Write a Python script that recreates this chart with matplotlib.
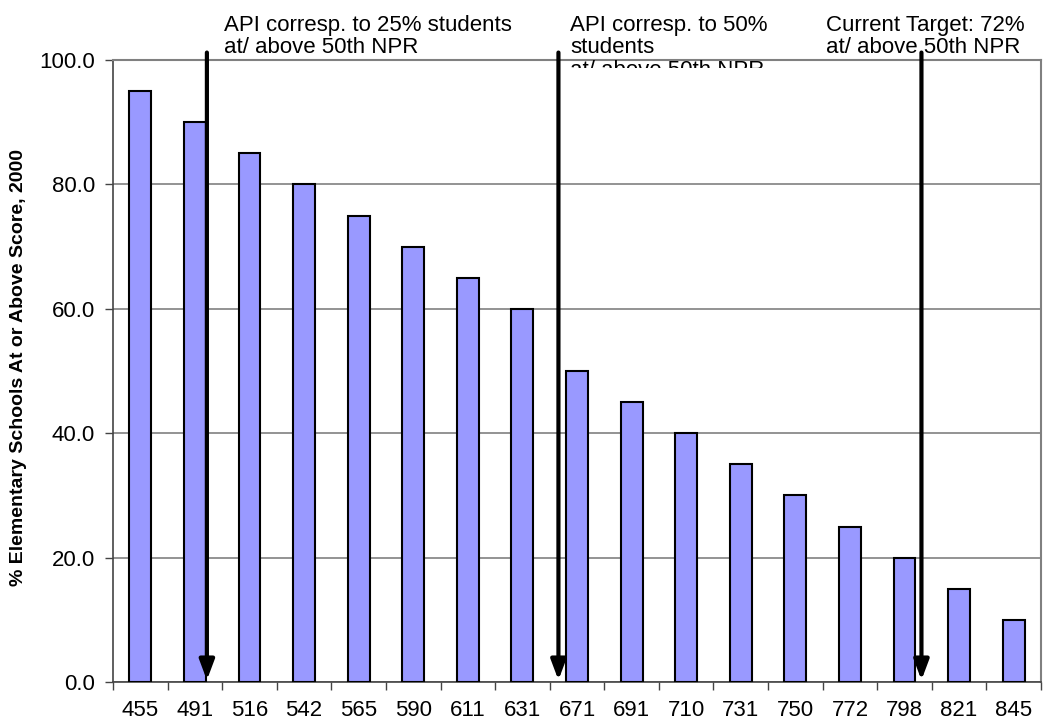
import matplotlib
matplotlib.use('Agg')
import matplotlib.pyplot as plt
from matplotlib.patches import Rectangle

plt.rcParams['font.family'] = ['Liberation Sans', 'DejaVu Sans']

# API score cutoffs and share of elementary schools at/above each score
scores = ['455', '491', '516', '542', '565', '590', '611', '631', '671',
          '691', '710', '731', '750', '772', '798', '821', '845']
pct_schools = [95, 90, 85, 80, 75, 70, 65, 60, 50, 45, 40, 35, 30, 25, 20, 15, 10]

# reference markers (position along category axis) and their captions
marker_pos = [1.22, 7.66, 14.31]
marker_text = ['API corresp. to 25% students\nat/ above 50th NPR',
               'API corresp. to 50%\nstudents\nat/ above 50th NPR',
               'Current Target: 72%\nat/ above 50th NPR']
text_x = [224, 570, 826]

W, H = 1060, 721
fig = plt.figure(figsize=(W/100, H/100), dpi=100)
ax = fig.add_axes([113/W, 1-682/H, 928/W, 622/H])

x = list(range(len(scores)))
ax.bar(x, pct_schools, width=0.4, color='#9999FF', edgecolor='black', linewidth=1.5, zorder=3)

ax.set_xlim(-0.5, len(scores)-0.5)
ax.set_ylim(0, 100)
ax.set_yticks([0, 20, 40, 60, 80, 100])
ax.set_yticklabels(['%.1f' % v for v in [0, 20, 40, 60, 80, 100]], fontsize=16)
ax.set_xticks(x)
ax.set_xticklabels(scores, fontsize=16)
ax.set_xticks([i-0.5 for i in range(len(scores)+1)], minor=True)
ax.tick_params(axis='x', which='major', length=0, pad=13)
ax.tick_params(axis='x', which='minor', length=6, width=1, color='#444444', direction='out')
ax.tick_params(axis='y', length=6, width=1, color='#444444', pad=7)
ax.yaxis.grid(True, color='#808080', linewidth=1.2, zorder=0)
ax.set_axisbelow(True)

for s in ['top', 'right']:
    ax.spines[s].set_color('#808080')
    ax.spines[s].set_linewidth(1.5)
for s in ['left', 'bottom']:
    ax.spines[s].set_color('#444444')
    ax.spines[s].set_linewidth(1.2)

ax.set_ylabel('% Elementary Schools At or Above Score, 2000', fontsize=14, fontweight='bold')
ax.yaxis.set_label_coords((27-113)/928, 0.505)

for xp in marker_pos:
    ax.annotate('', xy=(xp, 0.003), xytext=(xp, 1.012),
                xycoords=('data', 'axes fraction'), textcoords=('data', 'axes fraction'),
                arrowprops=dict(arrowstyle='-|>,head_length=1.2,head_width=0.45', color='black',
                                lw=3, shrinkA=0, shrinkB=0), annotation_clip=False, zorder=5)

for tx, txt in zip(text_x, marker_text):
    fig.text(tx/W, 1-15/H, txt, fontsize=16, va='top', ha='left', linespacing=1.08, zorder=3)

# last line of the middle caption runs under the plot frame, only its top shows
fig.add_artist(Rectangle((565/W, 1-95/H), 240/W, 27/H, transform=fig.transFigure,
                         facecolor='white', edgecolor='none', zorder=4))

fig.savefig('out.png', dpi=100)
